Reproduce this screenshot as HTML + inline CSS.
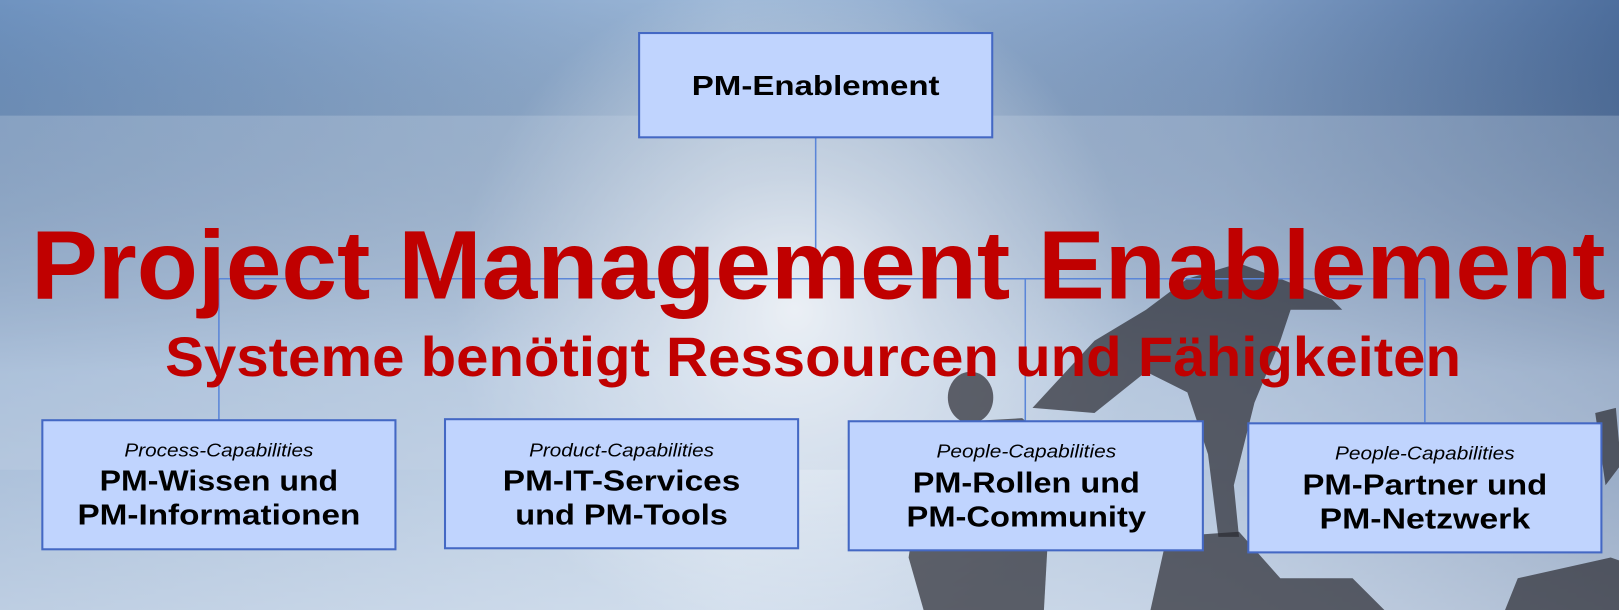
<!DOCTYPE html>
<html><head><meta charset="utf-8"><style>
html,body{margin:0;padding:0;width:1619px;height:610px;overflow:hidden}
svg{display:block}
text{font-family:"Liberation Sans",Arial,sans-serif}
</style></head><body>
<svg width="1619" height="610" viewBox="0 0 1619 610">
<defs>
<linearGradient id="sky" x1="0" y1="0" x2="1" y2="0">
<stop offset="0" stop-color="#6f93c0"/><stop offset="0.45" stop-color="#9bb6d6"/><stop offset="0.75" stop-color="#7e9cc4"/><stop offset="1" stop-color="#4c6d9c"/></linearGradient>
<linearGradient id="skyv" x1="0" y1="0" x2="0" y2="1">
<stop offset="0" stop-color="#000" stop-opacity="0"/><stop offset="0.6" stop-color="#fff" stop-opacity="0.35"/><stop offset="1" stop-color="#fff" stop-opacity="0.55"/></linearGradient>
<radialGradient id="sun" cx="770" cy="300" r="330" gradientUnits="userSpaceOnUse">
<stop offset="0" stop-color="#fff" stop-opacity="0.95"/><stop offset="0.4" stop-color="#fff" stop-opacity="0.5"/><stop offset="1" stop-color="#fff" stop-opacity="0"/></radialGradient>
</defs>
<g transform="scale(1.0325)">
<g>
<rect width="1580" height="600" fill="url(#sky)"/>
<rect width="1580" height="600" fill="url(#skyv)"/>
<rect width="1580" height="600" fill="url(#sun)"/>
<rect x="0" y="112" width="1580" height="343" fill="#c8d4e4" fill-opacity="0.3"/>
<g fill="#2a2a30" fill-opacity="0.7">
<path d="M1000 395 L1060 330 L1110 300 L1150 270 L1200 255 L1240 270 L1290 290 L1300 300 L1250 300 L1240 330 L1215 390 L1195 470 L1200 520 L1180 520 L1170 440 L1150 380 L1110 360 L1060 400 Z"/>
<ellipse cx="940" cy="385" rx="22" ry="25"/>
<path d="M900 410 L990 405 L1020 430 L1010 610 L900 610 L880 540 Z"/>
<path d="M1130 520 L1200 515 L1240 560 L1310 560 L1360 610 L1110 610 Z"/>
<path d="M1470 560 L1560 540 L1619 560 L1619 610 L1450 610 Z"/>
<path d="M1545 400 L1565 395 L1570 450 L1555 470 Z"/>
</g>
</g>
<g stroke="#5b86d8" stroke-width="1.5" fill="none">
<line x1="790" y1="133" x2="790" y2="270"/>
<line x1="212" y1="270" x2="1380" y2="270"/>
<line x1="212" y1="270" x2="212" y2="407"/>
<line x1="993" y1="270" x2="993" y2="408"/>
<line x1="1380" y1="270" x2="1380" y2="409"/>
</g>
<g>
<text x="30" y="289" font-size="94" font-weight="bold" fill="#c00000" textLength="1525" lengthAdjust="spacingAndGlyphs">Project Management Enablement</text>
<text x="160" y="364" font-size="54" font-weight="bold" fill="#c00000" textLength="1255" lengthAdjust="spacingAndGlyphs">Systeme benötigt Ressourcen und Fähigkeiten</text>
</g>
<g>
<rect x="619" y="32" width="342" height="101" fill="#c0d4fe" stroke="#4468c4" stroke-width="2"/>
<text x="790" y="92" font-size="27" font-weight="bold" text-anchor="middle" fill="#000" textLength="240" lengthAdjust="spacingAndGlyphs">PM-Enablement</text>
</g>
<g>
<rect x="41" y="407" width="342" height="125" fill="#c0d4fe" stroke="#4468c4" stroke-width="2"/>
<text x="212" y="442" font-size="18" font-style="italic" text-anchor="middle" textLength="183" lengthAdjust="spacingAndGlyphs">Process-Capabilities</text>
<text x="212" y="475" font-size="28" font-weight="bold" text-anchor="middle" textLength="231" lengthAdjust="spacingAndGlyphs">PM-Wissen und</text>
<text x="212" y="508" font-size="28" font-weight="bold" text-anchor="middle" textLength="274" lengthAdjust="spacingAndGlyphs">PM-Informationen</text>
</g>
<g>
<rect x="431" y="406" width="342" height="125" fill="#c0d4fe" stroke="#4468c4" stroke-width="2"/>
<text x="602" y="442" font-size="18" font-style="italic" text-anchor="middle" textLength="179" lengthAdjust="spacingAndGlyphs">Product-Capabilities</text>
<text x="602" y="475" font-size="28" font-weight="bold" text-anchor="middle" textLength="230" lengthAdjust="spacingAndGlyphs">PM-IT-Services</text>
<text x="602" y="508" font-size="28" font-weight="bold" text-anchor="middle" textLength="206" lengthAdjust="spacingAndGlyphs">und PM-Tools</text>
</g>
<g>
<rect x="822" y="408" width="343" height="125" fill="#c0d4fe" stroke="#4468c4" stroke-width="2"/>
<text x="994" y="443" font-size="18" font-style="italic" text-anchor="middle" textLength="174" lengthAdjust="spacingAndGlyphs">People-Capabilities</text>
<text x="994" y="477" font-size="28" font-weight="bold" text-anchor="middle" textLength="220" lengthAdjust="spacingAndGlyphs">PM-Rollen und</text>
<text x="994" y="510" font-size="28" font-weight="bold" text-anchor="middle" textLength="232" lengthAdjust="spacingAndGlyphs">PM-Community</text>
</g>
<g>
<rect x="1209" y="410" width="342" height="125" fill="#c0d4fe" stroke="#4468c4" stroke-width="2"/>
<text x="1380" y="445" font-size="18" font-style="italic" text-anchor="middle" textLength="174" lengthAdjust="spacingAndGlyphs">People-Capabilities</text>
<text x="1380" y="479" font-size="28" font-weight="bold" text-anchor="middle" textLength="237" lengthAdjust="spacingAndGlyphs">PM-Partner und</text>
<text x="1380" y="512" font-size="28" font-weight="bold" text-anchor="middle" textLength="204" lengthAdjust="spacingAndGlyphs">PM-Netzwerk</text>
</g>
</g>
</svg>
</body></html>
